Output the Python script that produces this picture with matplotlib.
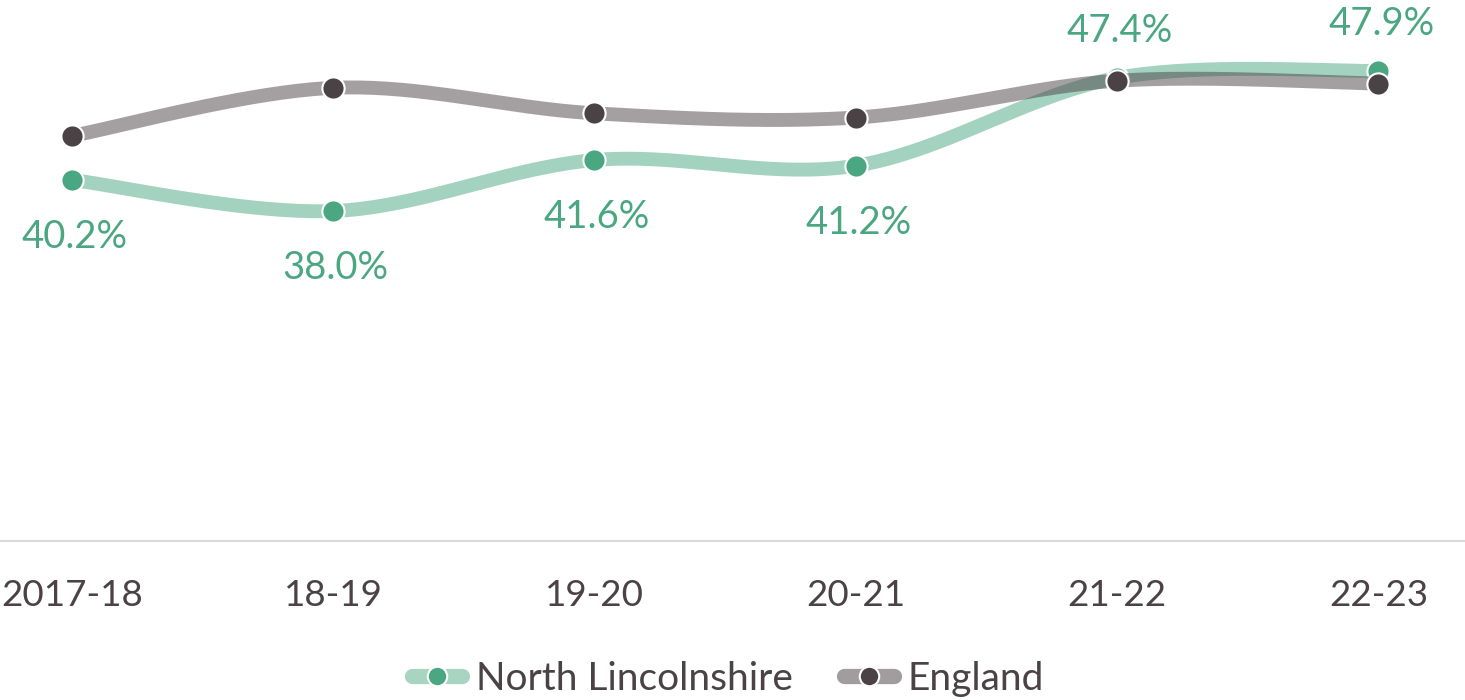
import numpy as np
import matplotlib.pyplot as plt
from matplotlib.lines import Line2D

# Data
years = ['2017-18', '18-19', '19-20', '20-21', '21-22', '22-23']
north_lincs = [40.2, 38.0, 41.6, 41.2, 47.4, 47.9]
england = [43.3, 46.7, 44.9, 44.6, 47.2, 47.0]
label_above = [False, False, False, False, True, True]

GREEN = '#4BA682'
DARK = '#4A4245'
TEXT = '#4A4245'


def smooth(x, y, n=40):
    # Catmull-Rom curve through the points, like Excel's smoothed line
    x = np.asarray(x, float)
    y = np.asarray(y, float)
    px = np.concatenate([[x[0]], x, [x[-1]]])
    py = np.concatenate([[y[0]], y, [y[-1]]])
    xs, ys = [], []
    t = np.linspace(0, 1, n)
    for i in range(1, len(px) - 2):
        p0, p1, p2, p3 = (np.array([px[j], py[j]]) for j in range(i - 1, i + 3))
        c1 = p1 + (p2 - p0) / 6
        c2 = p2 - (p3 - p1) / 6
        b = ((1 - t) ** 3)[:, None] * p1 + (3 * (1 - t) ** 2 * t)[:, None] * c1 \
            + (3 * (1 - t) * t ** 2)[:, None] * c2 + (t ** 3)[:, None] * p2
        xs.extend(b[:, 0])
        ys.extend(b[:, 1])
    return np.array(xs), np.array(ys)


plt.rcParams['font.family'] = ['Lato', 'DejaVu Sans']

fig = plt.figure(figsize=(14.65, 7.0), dpi=100)
ax = fig.add_axes([-59 / 1465, 159 / 700, 1568 / 1465, 541 / 700])

x = np.arange(len(years))

for vals, col, z in [(north_lincs, GREEN, 2), (england, DARK, 3)]:
    sx, sy = smooth(x, vals)
    ax.plot(sx, sy, color=col, alpha=0.5, lw=10, solid_capstyle='butt', zorder=z)
    ax.plot(x, vals, ls='none', marker='o', ms=16, mfc=col, mec='white', mew=1.5, zorder=z + 0.5)

for xi, v, up in zip(x, north_lincs, label_above):
    off = 34 if up else -41
    ax.annotate(f'{v:.1f}%', (xi, v), xytext=(2, off), textcoords='offset points',
                ha='center', va='center', color=GREEN, fontsize=27.5)

ax.set_xlim(-0.5, 5.5)
ax.set_ylim(14.7, 52.9)
ax.set_yticks([])
ax.set_xticks(x)
ax.set_xticklabels(years, fontsize=26.5, color=TEXT)
ax.tick_params(axis='x', length=0, pad=27)
for s in ['top', 'right', 'left']:
    ax.spines[s].set_visible(False)
ax.spines['bottom'].set_color('#D9D9D9')
ax.spines['bottom'].set_linewidth(1.5)

line_handles = [
    Line2D([], [], color='#A8D5C2', lw=11, solid_capstyle='round', marker='o', ms=14,
           mfc=GREEN, mec='white', mew=1.5),
    Line2D([], [], color='#A19D9E', lw=11, solid_capstyle='round', marker='o', ms=14,
           mfc=DARK, mec='white', mew=1.5),
]
fig.legend(line_handles, ['North Lincolnshire', 'England'], loc='center',
           bbox_to_anchor=(728 / 1465, 1 - 679 / 700), ncol=2, frameon=False,
           fontsize=28, handlelength=1.3, handletextpad=0.35, columnspacing=1.3,
           labelcolor=TEXT)

fig.savefig('out.png', dpi=100)
